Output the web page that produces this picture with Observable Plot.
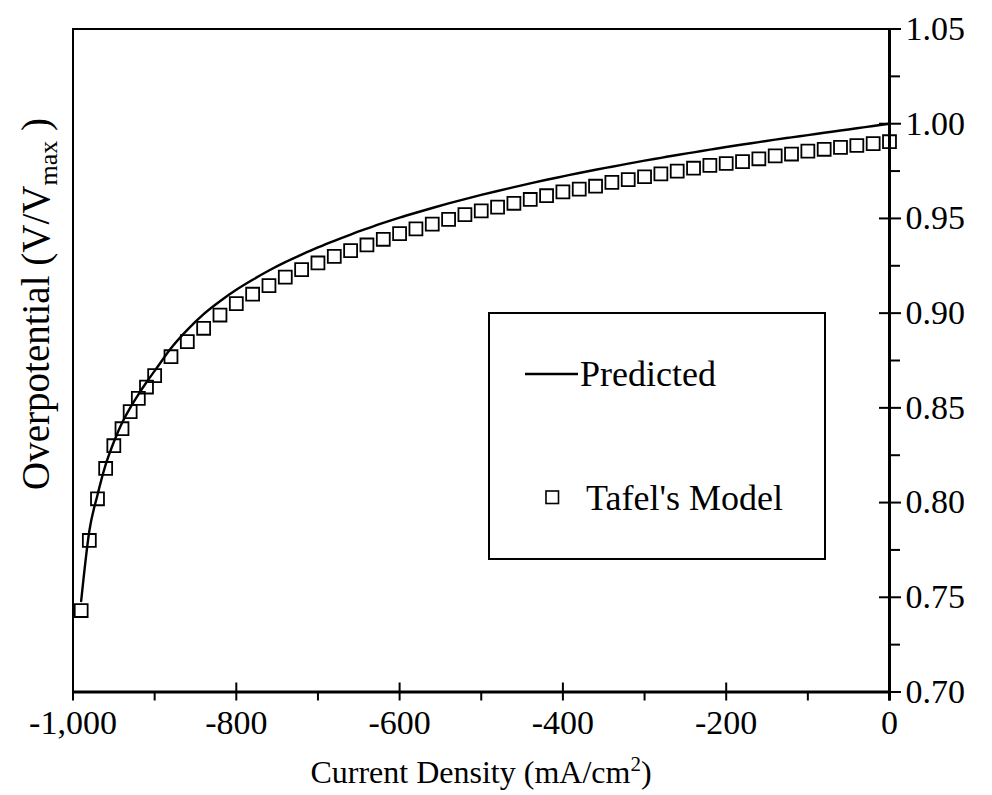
<!DOCTYPE html>
<html>
<head>
<meta charset="utf-8">
<script src="https://cdn.jsdelivr.net/npm/d3@7"></script>
<script src="https://cdn.jsdelivr.net/npm/@observablehq/plot@0.6"></script>
<style>
html, body { margin: 0; padding: 0; background: #fff; }
#chart { width: 992px; height: 795px; }
</style>
</head>
<body>
<div id="chart"></div>
<script>
// ---- data ----
const currentDensity = [-990,-980,-970,-960,-950,-940,-930,-920,-910,-900,-880,-860,-840,-820,-800,-780,-760,-740,-720,-700,-680,-660,-640,-620,-600,-580,-560,-540,-520,-500,-480,-460,-440,-420,-400,-380,-360,-340,-320,-300,-280,-260,-240,-220,-200,-180,-160,-140,-120,-100,-80,-60,-40,-20,0];
const predictedValues = [0.748,0.785,0.804,0.820,0.832,0.842,0.850,0.857,0.8635,0.8695,0.8815,0.8912,0.8995,0.9063,0.9123,0.9176,0.9225,0.9269,0.9309,0.9347,0.9382,0.9415,0.9446,0.9476,0.9504,0.9530,0.9555,0.9579,0.9602,0.9624,0.9645,0.9665,0.9685,0.9704,0.9722,0.9740,0.9757,0.9773,0.9789,0.9805,0.9820,0.9835,0.9849,0.9863,0.9877,0.9890,0.9903,0.9916,0.9928,0.9940,0.9952,0.9964,0.9976,0.9988,1.000];
const tafelValues = [0.743,0.780,0.802,0.818,0.830,0.839,0.848,0.855,0.861,0.867,0.877,0.885,0.892,0.899,0.905,0.910,0.9145,0.919,0.923,0.9265,0.930,0.933,0.936,0.939,0.942,0.9445,0.947,0.9495,0.952,0.954,0.956,0.958,0.960,0.962,0.964,0.9655,0.967,0.969,0.9705,0.972,0.9735,0.975,0.9765,0.978,0.979,0.980,0.9815,0.983,0.984,0.9855,0.9865,0.9875,0.9885,0.9895,0.9905];
const xMajorTicks = [-1000,-800,-600,-400,-200,0];
const xMinorTicks = [-900,-700,-500,-300,-100];
const yMajorTicks = [0.70,0.75,0.80,0.85,0.90,0.95,1.00,1.05];
const yMinorTicks = [0.725,0.775,0.825,0.875,0.925,0.975,1.025];
const seriesNames = ["Predicted", "Tafel's Model"];
const xTitle = "Current Density (mA/cm";
const yTitle = "Overpotential (V/V";

const predicted = currentDensity.map((x, i) => ({x, y: predictedValues[i]}));
const tafel = currentDensity.map((x, i) => ({x, y: tafelValues[i]}));

const FONT = "'Liberation Serif', 'Times New Roman', Times, serif";
const blank = () => "";

const chart = Plot.plot({
  width: 992,
  height: 795,
  marginLeft: 72.5,
  marginRight: 103,
  marginTop: 28.5,
  marginBottom: 103.5,
  style: {fontFamily: FONT, fontSize: "34px", color: "#000", background: "#fff", overflow: "visible"},
  x: {domain: [-1000, 0]},
  y: {domain: [0.70, 1.05]},
  marks: [
    Plot.frame({stroke: "#000", strokeWidth: 2}),
    // x axis: labelled major ticks crossing the line, minor ticks outside
    Plot.axisX({ticks: xMajorTicks, tickSize: 9, tickPadding: 9, strokeWidth: 2,
      tickFormat: d => d.toLocaleString("en-US"), label: null}),
    Plot.axisX({ticks: xMajorTicks, tickSize: -9, tickFormat: blank, strokeWidth: 2, label: null}),
    Plot.axisX({ticks: xMinorTicks, tickSize: 9, tickFormat: blank, strokeWidth: 2, label: null}),
    // y axis on the right
    Plot.axisY({anchor: "right", ticks: yMajorTicks, tickSize: 11, tickPadding: 5, strokeWidth: 2,
      tickFormat: d3.format(".2f"), label: null}),
    Plot.axisY({anchor: "right", ticks: yMajorTicks, tickSize: -11, tickFormat: blank, strokeWidth: 2, label: null}),
    Plot.axisY({anchor: "right", ticks: yMinorTicks, tickSize: 10, tickFormat: blank, strokeWidth: 2, label: null}),
    Plot.ruleY([0.70], {stroke: "#000", strokeWidth: 3}),
    Plot.ruleX([0], {stroke: "#000", strokeWidth: 3, insetBottom: -9}),
    // data
    Plot.line(predicted, {x: "x", y: "y", stroke: "#000", strokeWidth: 2.4, curve: "monotone-x"}),
    Plot.dot(tafel, {x: "x", y: "y", symbol: "square", r: 7.3, stroke: "#000", strokeWidth: 1.8, fill: "none"})
  ]
});

document.getElementById("chart").appendChild(chart);

// titles and legend, as real SVG text
const svg = d3.select(chart);
const xt = svg.append("text")
  .attr("x", 481).attr("y", 783)
  .attr("text-anchor", "middle")
  .style("font-family", FONT).style("font-size", "32px").attr("fill", "#000");
xt.append("tspan").text(xTitle);
xt.append("tspan").attr("dy", -12).style("font-size", "21px").text("2");
xt.append("tspan").attr("dy", 12).text(")");

const yt = svg.append("text")
  .attr("transform", "translate(49,304) rotate(-90)")
  .attr("text-anchor", "middle")
  .style("font-family", FONT).style("font-size", "39px").attr("fill", "#000");
yt.append("tspan").text(yTitle);
yt.append("tspan").attr("dy", 8).style("font-size", "26px").text("max");
yt.append("tspan").attr("dy", -8).text(" )");

const lg = svg.append("g").attr("text-anchor", "start");
lg.append("rect").attr("x", 489).attr("y", 313).attr("width", 336).attr("height", 246)
  .attr("fill", "#fff").attr("stroke", "#000").attr("stroke-width", 2);
lg.append("line").attr("x1", 525).attr("x2", 578).attr("y1", 374).attr("y2", 374)
  .attr("stroke", "#000").attr("stroke-width", 2.4);
lg.append("text").attr("x", 580).attr("y", 386).attr("text-anchor", "start").text(seriesNames[0])
  .style("font-family", FONT).style("font-size", "36px").attr("fill", "#000");
lg.append("rect").attr("x", 546).attr("y", 491).attr("width", 12.5).attr("height", 12.5)
  .attr("fill", "none").attr("stroke", "#000").attr("stroke-width", 1.6);
lg.append("text").attr("x", 586).attr("y", 510).attr("text-anchor", "start").text(seriesNames[1])
  .style("font-family", FONT).style("font-size", "36px").attr("fill", "#000");
</script>
</body>
</html>
